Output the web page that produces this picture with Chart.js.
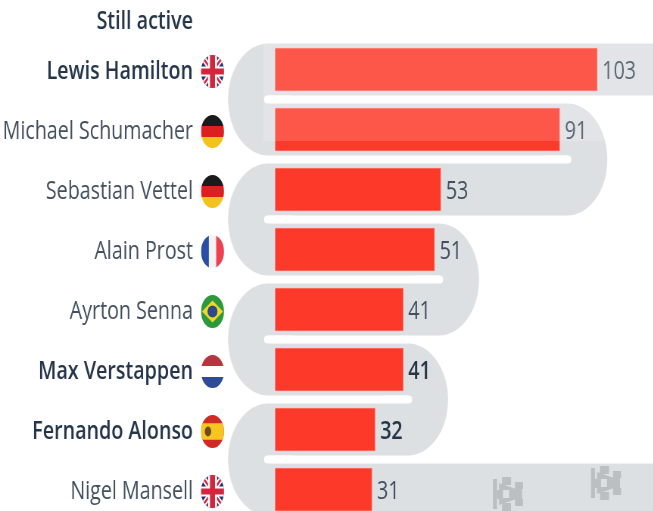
<!DOCTYPE html>
<html>
<head>
<meta charset="utf-8">
<script src="https://cdn.jsdelivr.net/npm/chart.js@4"></script>
<style>
html, body { margin: 0; padding: 0; width: 653px; height: 511px; overflow: hidden; background: #fff; }
#wrap { position: absolute; left: 0; top: 0; width: 863px; height: 530px; transform: scaleX(0.757); transform-origin: 0 0; filter: blur(0.4px); }
</style>
</head>
<body>
<div id="wrap"><canvas id="myChart" width="863" height="530"></canvas></div>
<script>
const drivers = ['Lewis Hamilton', 'Michael Schumacher', 'Sebastian Vettel', 'Alain Prost', 'Ayrton Senna', 'Max Verstappen', 'Fernando Alonso', 'Nigel Mansell'];
const wins = [103, 91, 53, 51, 41, 41, 32, 31];
const flags = ['gb', 'de', 'de', 'fr', 'br', 'nl', 'es', 'gb'];
const stillActive = ['Lewis Hamilton', 'Max Verstappen', 'Fernando Alonso'];
const boldValues = ['Max Verstappen', 'Fernando Alonso'];

const squeeze = 0.757;
const px = v => v / squeeze;
const darkText = '#26364a';
const softText = '#414f5f';
const band = '#dde0e3';
const textFont = '"Open Sans"';

function unionJack(ctx, rx, ry) {
    ctx.fillStyle = '#22306e';
    ctx.fillRect(-rx, -ry, rx * 2, ry * 2);
    ctx.strokeStyle = '#fff';
    ctx.lineWidth = 5;
    ctx.beginPath();
    ctx.moveTo(-rx, -ry); ctx.lineTo(rx, ry);
    ctx.moveTo(rx, -ry); ctx.lineTo(-rx, ry);
    ctx.stroke();
    ctx.strokeStyle = '#d3253c';
    ctx.lineWidth = 2;
    ctx.stroke();
    ctx.fillStyle = '#fff';
    ctx.fillRect(-rx, -5, rx * 2, 10);
    ctx.fillRect(-4.5, -ry, 9, ry * 2);
    ctx.fillStyle = '#d3253c';
    ctx.fillRect(-rx, -3, rx * 2, 6);
    ctx.fillRect(-2.5, -ry, 5, ry * 2);
}

function stripes(ctx, rx, ry, colors) {
    colors.forEach((c, i) => {
        ctx.fillStyle = c;
        ctx.fillRect(-rx, -ry + i * ry * 2 / colors.length, rx * 2, ry * 2 / colors.length + 0.5);
    });
}

function drawFlag(ctx, code, x, y) {
    const rx = 11.5, ry = 16.5;
    ctx.save();
    ctx.translate(x, y);
    ctx.scale(1 / squeeze, 1);
    ctx.beginPath();
    ctx.ellipse(0, 0, rx, ry, 0, 0, Math.PI * 2);
    ctx.clip();
    if (code === 'gb') unionJack(ctx, rx, ry);
    if (code === 'de') stripes(ctx, rx, ry, ['#1a1a1a', '#dd1f1f', '#f4c21f']);
    if (code === 'nl') stripes(ctx, rx, ry, ['#b8343f', '#ffffff', '#2f4b96']);
    if (code === 'es') {
        ctx.fillStyle = '#d02a24';
        ctx.fillRect(-rx, -ry, rx * 2, ry * 2);
        ctx.fillStyle = '#f6c51f';
        ctx.fillRect(-rx, -ry / 2, rx * 2, ry);
        ctx.fillStyle = '#6e4a22';
        ctx.beginPath();
        ctx.ellipse(-4.5, 0, 3.2, 5, 0, 0, Math.PI * 2);
        ctx.fill();
    }
    if (code === 'fr') {
        ctx.fillStyle = '#f3f3f6';
        ctx.fillRect(-rx, -ry, rx * 2, ry * 2);
        ctx.fillStyle = '#2a4ea5';
        ctx.fillRect(-rx, -ry, rx * 0.68, ry * 2);
        ctx.fillStyle = '#ee4150';
        ctx.fillRect(rx * 0.32, -ry, rx * 0.68, ry * 2);
    }
    if (code === 'br') {
        ctx.fillStyle = '#2c9a3c';
        ctx.fillRect(-rx, -ry, rx * 2, ry * 2);
        ctx.fillStyle = '#f2d629';
        ctx.beginPath();
        ctx.moveTo(-rx + 1, 0); ctx.lineTo(0, -11); ctx.lineTo(rx - 1, 0); ctx.lineTo(0, 11);
        ctx.fill();
        ctx.fillStyle = '#2b4a86';
        ctx.beginPath();
        ctx.ellipse(0, 0, 5, 6, 0, 0, Math.PI * 2);
        ctx.fill();
    }
    ctx.restore();
}

function drawCar(ctx, x, y) {
    ctx.save();
    ctx.fillStyle = '#bcbfc2';
    ctx.translate(x, y);
    ctx.scale(1 / squeeze, 1);
    ctx.fillRect(-15, -14, 4, 30);
    ctx.fillRect(-11, -3, 3, 9);
    ctx.beginPath();
    ctx.moveTo(-9, -10); ctx.lineTo(8, -4); ctx.lineTo(14, -4); ctx.lineTo(14, 6); ctx.lineTo(8, 6); ctx.lineTo(-9, 12);
    ctx.fill();
    ctx.fillRect(-6, -16, 9, 8);
    ctx.fillRect(-6, 10, 9, 8);
    ctx.fillRect(7, -11, 8, 7);
    ctx.fillRect(7, 6, 8, 7);
    ctx.fillStyle = band;
    ctx.fillRect(-5, -3, 6, 8);
    ctx.restore();
}

const turnValues = [94.7, 53.7, 43.8];
const leftTurnValue = -3.5;

const snakePlugin = {
    id: 'snake',
    beforeDatasetsDraw(chart) {
        const { ctx, scales, width } = chart;
        const x = scales.x, y = scales.y;
        const half = 26, gap = 4, gapX = px(4);
        const left = x.getPixelForValue(leftTurnValue);
        const rx = px(40);
        const turns = turnValues.flatMap(v => [x.getPixelForValue(v) - gapX, x.getPixelForValue(v) - gapX]);
        const rights = [width, ...turns, width];
        ctx.save();
        ctx.fillStyle = band;
        drivers.forEach((d, i) => {
            const cy = y.getPixelForValue(i);
            ctx.fillRect(left + gapX - 1, cy - half, rights[i] - left - gapX + 2, half * 2);
            if (i === drivers.length - 1) return;
            const mid = cy + (y.getPixelForValue(i + 1) - cy) / 2;
            const isLeft = i % 2 === 0;
            const cx = isLeft ? left + gapX : rights[i + 1];
            ctx.fillStyle = band;
            ctx.beginPath();
            if (isLeft) ctx.ellipse(cx, mid, rx, 56, 0, Math.PI / 2, Math.PI * 1.5);
            else ctx.ellipse(cx, mid, rx, 56, 0, -Math.PI / 2, Math.PI / 2);
            ctx.fill();
            ctx.fillStyle = '#fff';
            ctx.beginPath();
            if (isLeft) ctx.roundRect(left, mid - gap, 40, gap * 2, gap);
            else ctx.roundRect(rights[i + 1] + gapX - 40, mid - gap, 40, gap * 2, gap);
            ctx.fill();
            ctx.fillStyle = band;
        });
        ctx.restore();
        drawCar(ctx, px(508), 493);
        drawCar(ctx, px(606), 482);
    },
    afterDatasetsDraw(chart) {
        const { ctx } = chart;
        const bars = chart.getDatasetMeta(0).data;
        ctx.save();
        ctx.textBaseline = 'middle';
        ctx.textAlign = 'left';
        bars.forEach((bar, i) => {
            const bold = boldValues.includes(drivers[i]);
            ctx.font = (bold ? '600 ' : '400 ') + '26px ' + textFont;
            ctx.fillStyle = bold ? darkText : softText;
            ctx.fillText(wins[i], bar.x + px(5), bar.y + 2);
        });
        // pale wash over the top of the plot
        ctx.fillStyle = 'rgba(255,255,255,0.15)';
        ctx.fillRect(px(263), 0, chart.width - px(263), 141);
        ctx.restore();
    },
    afterDraw(chart) {
        const { ctx, scales } = chart;
        flags.forEach((f, i) => drawFlag(ctx, f, px(212.5), scales.y.getPixelForValue(i) + 2));
        ctx.save();
        ctx.font = '600 26px ' + textFont;
        ctx.fillStyle = darkText;
        ctx.textAlign = 'right';
        ctx.textBaseline = 'middle';
        ctx.fillText('Still active', px(193), 22);
        ctx.restore();
    },
};

const ctx = document.getElementById('myChart').getContext('2d');

new Chart(ctx, {
    type: 'bar',
    data: {
        labels: drivers,
        datasets: [{
            data: wins,
            backgroundColor: '#fd3a2a',
            borderColor: '#fa7468',
            borderWidth: 1,
            barThickness: 43,
        }],
    },
    options: {
        indexAxis: 'y',
        responsive: false,
        animation: false,
        layout: { padding: { top: 39.5, bottom: 10.5, left: 0, right: 0 } },
        plugins: { legend: { display: false }, tooltip: { enabled: false } },
        scales: {
            x: {
                display: false,
                min: 0,
                max: 120.9,
            },
            y: {
                afterFit(scale) {
                    scale.width = px(275);
                    scale.paddingTop = 0;
                    scale.paddingBottom = 0;
                },
                border: { display: false },
                grid: { display: false, drawTicks: false, tickLength: 0 },
                ticks: {
                    autoSkip: false,
                    padding: px(82),
                    labelOffset: 2,
                    color: c => stillActive.includes(drivers[c.index]) ? darkText : softText,
                    font: c => ({ family: textFont, size: 26, weight: stillActive.includes(drivers[c.index]) ? '600' : '400' }),
                },
            },
        },
    },
    plugins: [snakePlugin],
});
</script>
</body>
</html>
